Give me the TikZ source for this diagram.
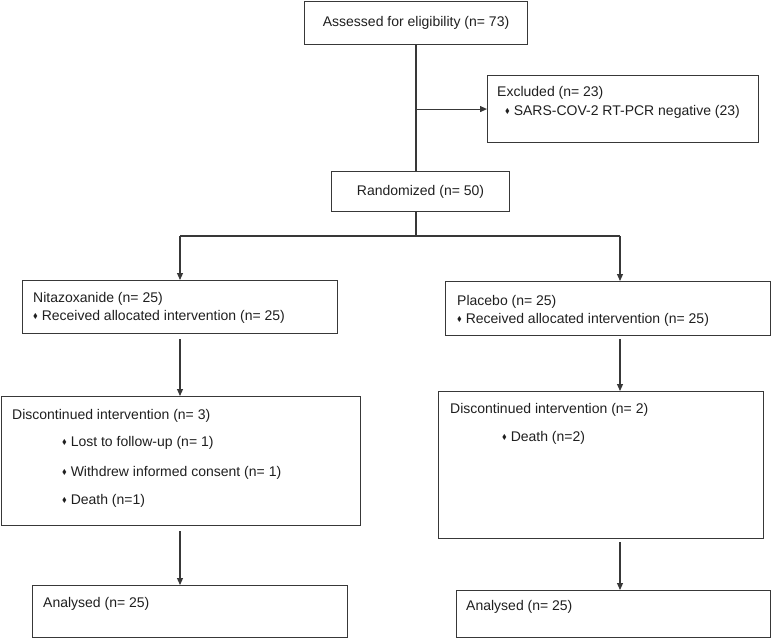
\documentclass[tikz,border=0pt]{standalone}
\usepackage{fontspec}
\setmainfont{Liberation Sans}
\usepackage{amssymb}
\usetikzlibrary{arrows.meta,positioning}
\newcommand{\linecolor}{black!78}
\newcommand{\bul}{\raisebox{0.35ex}{\scalebox{0.5}{$\blacklozenge$}}\ }

\begin{document}
\begin{tikzpicture}[x=1pt,y=-1pt,
  font=\fontsize{14}{17}\selectfont,
  box/.style={draw=\linecolor, line width=1.1pt, inner sep=0pt, anchor=north west},
  txt/.style={anchor=west, inner sep=0pt, text=black!88},
  line/.style={draw=\linecolor, line width=1.1pt},
  arr/.style={line, -{Triangle[length=7pt,width=6pt]}}]
\useasboundingbox (0,0) rectangle (771,638);
% boxes
\node[box, minimum width=223pt, minimum height=43.5pt] (1) at (304,0.6) {};
\node[box, minimum width=271pt, minimum height=67pt] (2) at (487,75) {};
\node[box, minimum width=178pt, minimum height=40pt] (3) at (331,171) {};
\node[box, minimum width=315pt, minimum height=53pt] (4) at (22,280) {};
\node[box, minimum width=325pt, minimum height=54pt] (5) at (445,281) {};
\node[box, minimum width=359pt, minimum height=129pt] (6) at (1,396) {};
\node[box, minimum width=325pt, minimum height=147pt] (7) at (438,391) {};
\node[box, minimum width=315pt, minimum height=52pt] (8) at (32,585) {};
\node[box, minimum width=314pt, minimum height=47pt] (9) at (456,590) {};
% texts
\node[text=black!88] (1a) at (1) {Assessed for eligibility (n= 73)};
\node[txt] (2a) at (497,93) {Excluded (n= 23)};
\node[txt] (2b) at (505,112) {\bul SARS-COV-2 RT-PCR negative (23)};
\node[text=black!88] (3a) at (3) {Randomized (n= 50)};
\node[txt] (4a) at (33,299) {Nitazoxanide (n= 25)};
\node[txt] (4b) at (33,317) {\bul Received allocated intervention (n= 25)};
\node[txt] (5a) at (457,302) {Placebo (n= 25)};
\node[txt] (5b) at (457,320) {\bul Received allocated intervention (n= 25)};
\node[txt] (6a) at (12,416) {Discontinued intervention (n= 3)};
\node[txt] (6b) at (62,443) {\bul Lost to follow-up (n= 1)};
\node[txt] (6c) at (62,473) {\bul Withdrew informed consent (n= 1)};
\node[txt] (6d) at (62,501) {\bul Death (n=1)};
\node[txt] (7a) at (450,410) {Discontinued intervention (n= 2)};
\node[txt] (7b) at (502,438) {\bul Death (n=2)};
\node[txt] (8a) at (43,604) {Analysed (n= 25)};
\node[txt] (9a) at (466,607) {Analysed (n= 25)};
% connectors
\coordinate (s) at (416,236);
\coordinate (sl) at (180,236);
\coordinate (sr) at (620,236);
\draw[line] (1.south -| s) -- (3.north -| s);
\draw[arr] (2.west -| s) -- (2.west);
\draw[line] (3.south -| s) -- (s);
\draw[line] (sl) -- (sr);
\draw[arr] (sl) -- (sl |- 4.north);
\draw[arr] (sr) -- (sr |- 5.north);
\draw[arr, shorten <=5pt] (sl |- 4.south) -- (sl |- 6.north);
\draw[arr, shorten <=3pt] (sr |- 5.south) -- (sr |- 7.north);
\draw[arr, shorten <=5pt] (sl |- 6.south) -- (sl |- 8.north);
\draw[arr, shorten <=3pt] (sr |- 7.south) -- (sr |- 9.north);
\end{tikzpicture}
\end{document}
